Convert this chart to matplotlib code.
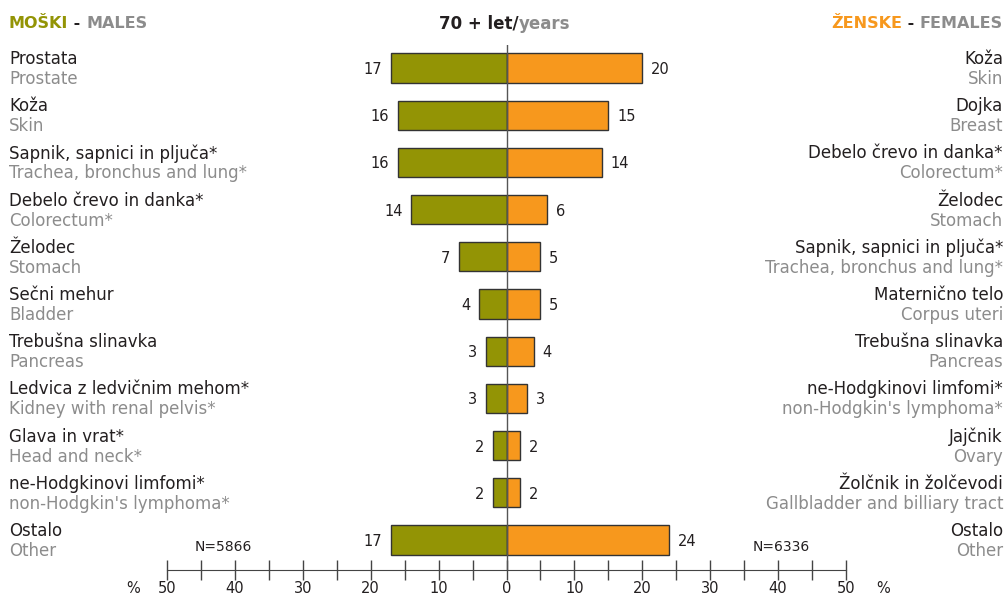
import matplotlib
matplotlib.use("Agg")
import matplotlib.pyplot as plt

plt.rcParams['font.family'] = ['DejaVu Sans']

# data
male_si = ["Prostata", "Koža", "Sapnik, sapnici in pljuča*", "Debelo črevo in danka*",
           "Želodec", "Sečni mehur", "Trebušna slinavka", "Ledvica z ledvičnim mehom*",
           "Glava in vrat*", "ne-Hodgkinovi limfomi*", "Ostalo"]
male_en = ["Prostate", "Skin", "Trachea, bronchus and lung*", "Colorectum*",
           "Stomach", "Bladder", "Pancreas", "Kidney with renal pelvis*",
           "Head and neck*", "non-Hodgkin's lymphoma*", "Other"]
male_val = [17, 16, 16, 14, 7, 4, 3, 3, 2, 2, 17]

female_si = ["Koža", "Dojka", "Debelo črevo in danka*", "Želodec",
             "Sapnik, sapnici in pljuča*", "Maternično telo", "Trebušna slinavka",
             "ne-Hodgkinovi limfomi*", "Jajčnik", "Žolčnik in žolčevodi", "Ostalo"]
female_en = ["Skin", "Breast", "Colorectum*", "Stomach",
             "Trachea, bronchus and lung*", "Corpus uteri", "Pancreas",
             "non-Hodgkin's lymphoma*", "Ovary", "Gallbladder and billiary tract", "Other"]
female_val = [20, 15, 14, 6, 5, 5, 4, 3, 2, 2, 24]

n_male = "N=5866"
n_female = "N=6336"
ticks = [-50, -40, -30, -20, -10, 0, 10, 20, 30, 40, 50]

OLIVE = "#939405"
ORANGE = "#F7981D"
GREY = "#8c8c8c"
DARK = "#231f20"

W, H = 1007, 597
fig = plt.figure(figsize=(W / 100, H / 100), dpi=100)
x0, x1 = 167, 846
ytop, ybot = 45, 570
ax = fig.add_axes([x0 / W, 1 - ybot / H, (x1 - x0) / W, (ybot - ytop) / H])

row0, step = 68, 47.2
ax.set_xlim(-50, 50)
ax.set_ylim((ybot - row0) / step, (ytop - row0) / step)

rows = list(range(len(male_val)))
ax.barh(rows, [-v for v in male_val], height=0.62, color=OLIVE, edgecolor="#333333", linewidth=1)
ax.barh(rows, female_val, height=0.62, color=ORANGE, edgecolor="#333333", linewidth=1)
ax.axvline(0, color="#555555", lw=1, zorder=3)

for i in rows:
    ax.text(-male_val[i] - 1.3, i + 0.03, str(male_val[i]), ha="right", va="center", fontsize=10.5, color=DARK)
    ax.text(female_val[i] + 1.3, i + 0.03, str(female_val[i]), ha="left", va="center", fontsize=10.5, color=DARK)

last = rows[-1]
ax.text(-41.7, last + 0.15, n_male, ha="center", va="center", fontsize=10, color=DARK)
ax.text(40.5, last + 0.15, n_female, ha="center", va="center", fontsize=10, color=DARK)

for s in ["top", "left", "right"]:
    ax.spines[s].set_visible(False)
ax.spines["bottom"].set_color("#444444")
ax.set_yticks([])
ax.set_xticks(ticks)
ax.set_xticklabels([str(abs(t)) for t in ticks])
ax.set_xticks(range(-45, 50, 10), minor=True)
ax.tick_params(axis="x", which="both", direction="inout", length=14, width=1, color="#444444",
               labelsize=10.5, labelcolor=DARK, pad=1)
ax.text(-55, -0.036, "%", transform=ax.get_xaxis_transform(), ha="center", va="center",
        fontsize=10.5, color=DARK)
ax.text(55.5, -0.036, "%", transform=ax.get_xaxis_transform(), ha="center", va="center",
        fontsize=10.5, color=DARK)

# category labels
def ypix(i, off):
    return 1 - (row0 + step * i + off) / H

for i in rows:
    fig.text(9 / W, ypix(i, -9), male_si[i], ha="left", va="center", fontsize=12, color=DARK)
    fig.text(9 / W, ypix(i, 11), male_en[i], ha="left", va="center", fontsize=12, color=GREY)
    fig.text(1003 / W, ypix(i, -9), female_si[i], ha="right", va="center", fontsize=12, color=DARK)
    fig.text(1003 / W, ypix(i, 11), female_en[i], ha="right", va="center", fontsize=12, color=GREY)

# headers with multi-coloured parts
fig.canvas.draw()
renderer = fig.canvas.get_renderer()

def multi(x, y, parts, ha="left", size=11.5):
    texts = []
    total = 0
    for s, c in parts:
        t = fig.text(0, 0, s, fontsize=size, fontweight="bold", color=c)
        w = t.get_window_extent(renderer).width
        texts.append((t, w))
        total += w
    if ha == "right":
        start = x - total
    elif ha == "center":
        start = x - total / 2
    else:
        start = x
    for t, w in texts:
        t.set_position((start / W, 1 - y / H))
        t.set_va("center")
        start += w

multi(9, 24, [("MOŠKI", OLIVE), (" - ", DARK), ("MALES", GREY)])
multi(1003, 24, [("ŽENSKE", ORANGE), (" - ", DARK), ("FEMALES", GREY)], ha="right")
multi(505, 24, [("70 + let/", DARK), ("years", GREY)], ha="center", size=12)

fig.savefig("out.png", dpi=100)
